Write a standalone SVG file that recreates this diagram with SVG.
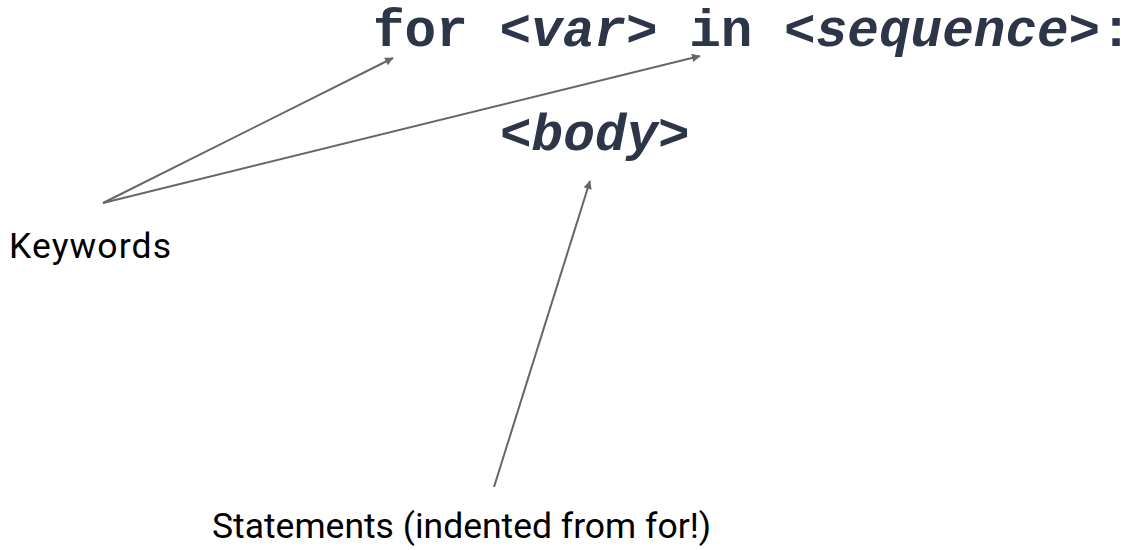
<svg xmlns="http://www.w3.org/2000/svg" width="1135" height="550" viewBox="0 0 1135 550">
<style>
.code{font-family:"Liberation Mono","Courier New",monospace;font-weight:bold;font-size:52.7px;fill:#2d3648}
.it{font-style:italic}
.lbl{font-family:Roboto,"Liberation Sans",sans-serif;font-size:35.5px;fill:#000}
.conn{stroke:#666;stroke-width:2;fill:none;marker-end:url(#ah)}
</style>
<defs>
<marker id="ah" viewBox="0 0 10 10" refX="9" refY="5" markerWidth="6" markerHeight="6" orient="auto" markerUnits="userSpaceOnUse" overflow="visible">
<path d="M0,0 L10,5 L0,10 z" fill="#666" transform="scale(1.4) translate(-3,-1.4)"/>
</marker>
</defs>
<rect width="1135" height="550" fill="#fff"/>
<g id="code-for">
<text class="code" x="373" y="46">for <tspan class="it">&lt;var&gt;</tspan> in <tspan class="it">&lt;sequence&gt;</tspan>:</text>
</g>
<g id="code-body">
<text class="code it" x="500" y="150">&lt;body&gt;</text>
</g>
<g id="keywords">
<text class="lbl" x="9" y="258" textLength="162">Keywords</text>
</g>
<g id="statements">
<text class="lbl" x="212" y="538">Statements (indented from for!)</text>
</g>
<g id="connectors">
<line class="conn" x1="103" y1="203" x2="393" y2="58"/>
<line class="conn" x1="103" y1="203" x2="700" y2="56"/>
<line class="conn" x1="494" y1="487" x2="590" y2="181"/>
</g>
</svg>
